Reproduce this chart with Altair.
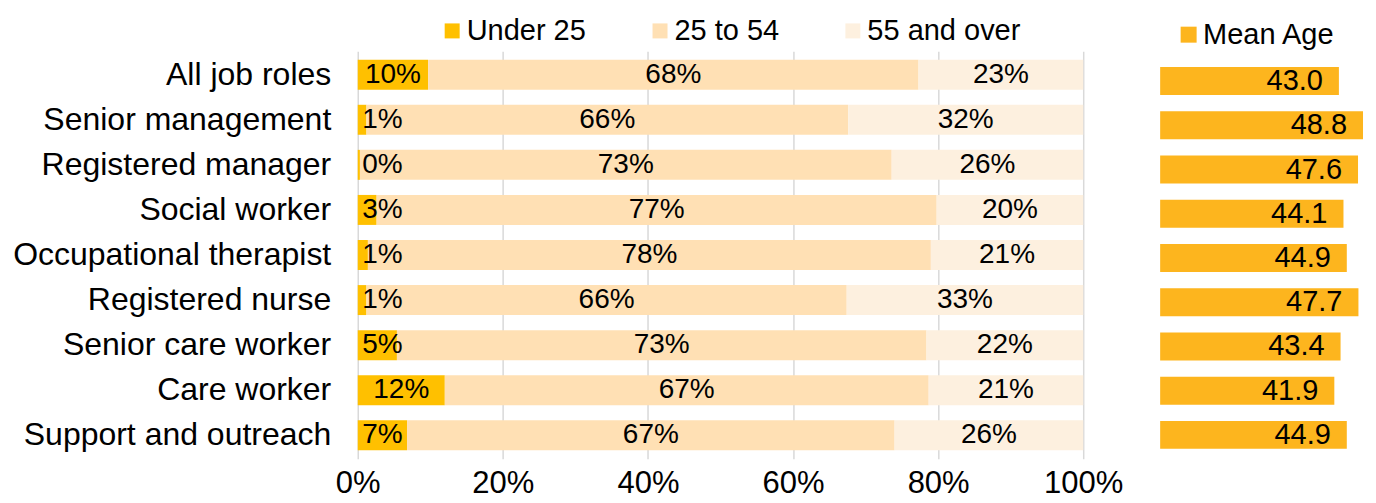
import altair as alt
import pandas as pd

roles = ["All job roles", "Senior management", "Registered manager", "Social worker",
         "Occupational therapist", "Registered nurse", "Senior care worker",
         "Care worker", "Support and outreach"]
under_25 = [9.7, 1.2, 0.3, 2.6, 1.4, 1.2, 5.4, 12.0, 6.8]
age_25_54 = [67.6, 66.4, 73.3, 77.2, 77.6, 66.2, 73.0, 66.7, 67.2]
over_55 = [22.7, 32.4, 26.4, 20.2, 21.0, 32.6, 21.6, 21.3, 26.0]
mean_age = [43.0, 48.8, 47.6, 44.1, 44.9, 47.7, 43.4, 41.9, 44.9]
groups = ["Under 25", "25 to 54", "55 and over"]
colors = ["#FFC000", "#FFE0B4", "#FDF0DF"]
mean_color = "#FDB51E"
tick_values = [0, 20, 40, 60, 80, 100]

FONT = "Liberation Sans"

rows = []
for i, r in enumerate(roles):
    start = 0.0
    for g, vals in zip(groups, [under_25, age_25_54, over_55]):
        v = vals[i]
        end = start + v
        mid = (start + end) / 2
        if g == "Under 25":
            mid = max(mid, 3.4)
        rows.append({"role": r, "group": g, "start": start, "end": end,
                     "label": f"{int(v + 0.5)}%", "label_x": mid,
                     "order": groups.index(g)})
        start = end
df = pd.DataFrame(rows)

mdf = pd.DataFrame({"role": roles, "mean_age": mean_age, "series": ["Mean Age"] * len(roles)})
mdf["label"] = [f"{v:.1f}" for v in mean_age]

y_left = alt.Y("role:N", sort=roles,
               scale=alt.Scale(paddingInner=0.335, paddingOuter=0.19, align=0.5),
               axis=alt.Axis(title=None, labelFontSize=32, labelPadding=27, ticks=False,
                             domain=False, labelColor="#000000", labelLimit=500,
                             labelFont=FONT, grid=False))

x_left = alt.X("start:Q", scale=alt.Scale(domain=[0, 100]),
               axis=alt.Axis(values=tick_values, labelExpr="datum.value + '%'", title=None,
                             grid=True, gridColor="#d9d9d9", gridWidth=1.5, domain=False,
                             ticks=False, labelFontSize=31, labelPadding=10,
                             labelColor="#000000", labelFont=FONT, labelFlush=False))

bars = alt.Chart(df).mark_bar().encode(
    y=y_left,
    x=x_left,
    x2="end:Q",
    color=alt.Color("group:N", scale=alt.Scale(domain=groups, range=colors),
                    legend=alt.Legend(orient="none", legendX=80, legendY=-35,
                                      direction="horizontal", title=None,
                                      labelFontSize=29, labelFont=FONT, labelColor="#000000",
                                      symbolType="square", symbolSize=225,
                                      symbolStrokeWidth=0, columnPadding=59,
                                      labelOffset=0, padding=0, labelLimit=400)),
    order=alt.Order("order:Q"),
)

labels = alt.Chart(df).mark_text(fontSize=28, font=FONT, color="#000000").encode(
    y=alt.Y("role:N", sort=roles),
    x=alt.X("label_x:Q"),
    text="label:N",
)

left = alt.layer(bars, labels).properties(width=726, height=408)

y_right = alt.Y("role:N", sort=roles,
                scale=alt.Scale(paddingInner=0.367, paddingOuter=0.293, align=0.615),
                axis=None)

mbars = alt.Chart(mdf).mark_bar().encode(
    y=y_right,
    x=alt.X("mean_age:Q", scale=alt.Scale(domain=[0, 49]), axis=None),
    color=alt.Color("series:N", scale=alt.Scale(domain=["Mean Age"], range=[mean_color]),
                    legend=alt.Legend(orient="none", legendX=14, legendY=-31,
                                      title=None, labelFontSize=29, labelFont=FONT,
                                      labelColor="#000000", symbolType="square",
                                      symbolSize=256, symbolStrokeWidth=0,
                                      labelOffset=0, padding=0)),
)

mlabels = alt.Chart(mdf).mark_text(fontSize=29, font=FONT, color="#000000",
                                   align="right", dx=-16).encode(
    y=alt.Y("role:N", sort=roles),
    x=alt.X("mean_age:Q"),
    text="label:N",
)

right = alt.layer(mbars, mlabels).properties(width=208, height=408)

chart = alt.hconcat(left, right, spacing=77, bounds="flush").resolve_scale(
    color="independent", y="independent", x="independent"
).properties(
    padding={"left": 4, "top": 8, "right": 0, "bottom": 0}
).configure_view(stroke=None)

chart.save("out.html", embed_options={"renderer": "svg", "actions": False})
